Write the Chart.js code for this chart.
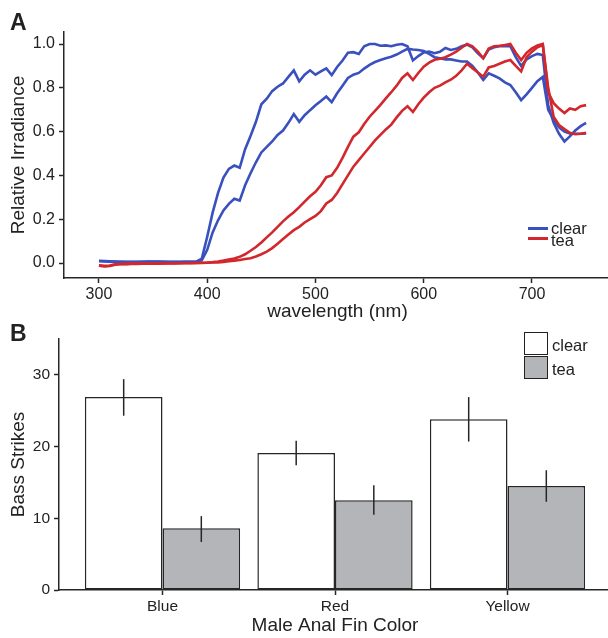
<!DOCTYPE html>
<html>
<head>
<meta charset="utf-8">
<script src="https://cdn.jsdelivr.net/npm/chart.js@4.4.1/dist/chart.umd.min.js"></script>
<style>
  html, body { margin: 0; padding: 0; background: #fff; overflow: hidden; }
  #wrap { position: relative; width: 608px; height: 638px; overflow: hidden;
          font-family: "Liberation Sans", Arial, sans-serif; color: #222; }
  canvas { position: absolute; left: 0; }
  #irr { top: 0; }
  #bass { top: 320px; }
  .tag { position: absolute; font-weight: bold; font-size: 23px; line-height: 1; }
  .lg { position: absolute; font-size: 16.5px; line-height: 1; }
  .seg { position: absolute; width: 20px; height: 3px; }
  .box { position: absolute; width: 22px; height: 21px; border: 1.5px solid #222; }
</style>
</head>
<body>
<div id="wrap">
  <canvas id="irr" width="611" height="321"></canvas>
  <canvas id="bass" width="611" height="318"></canvas>

  <div class="tag" style="left:10px; top:11px;">A</div>
  <div class="tag" style="left:10px; top:322px;">B</div>

  <!-- legend, panel A -->
  <div class="seg" style="left:528px; top:226.5px; background:#3a50be;"></div>
  <div class="lg" style="left:551px; top:220px;">clear</div>
  <div class="seg" style="left:528px; top:236.5px; background:#d2282d;"></div>
  <div class="lg" style="left:551px; top:231.5px;">tea</div>

  <!-- legend, panel B -->
  <div class="box" style="left:524px; top:332px; background:#fff;"></div>
  <div class="lg" style="left:552px; top:336.5px;">clear</div>
  <div class="box" style="left:524px; top:356px; background:#b3b5b8;"></div>
  <div class="lg" style="left:552px; top:360.5px;">tea</div>
</div>

<script>
// ---- panel A: relative irradiance spectra ----
const wavelengths = [
  300, 305, 310, 315, 320, 325, 330, 335, 340, 345, 350, 355, 360, 365, 370, 375, 380, 385, 390, 395,
  400, 405, 410, 415, 420, 425, 430, 435, 440, 445, 450, 455, 460, 465, 470, 475, 480, 485, 490, 495,
  500, 505, 510, 515, 520, 525, 530, 535, 540, 545, 550, 555, 560, 565, 570, 575, 580, 585, 590, 595,
  600, 605, 610, 615, 620, 625, 630, 635, 640, 645, 650, 655, 660, 665, 670, 675, 680, 685, 690, 695,
  700, 705, 710, 715, 720, 725, 730, 735, 740, 745, 750
];
const clearA = [
  0.008, 0.007, 0.006, 0.005, 0.005, 0.004, 0.004, 0.004, 0.005, 0.005, 0.005, 0.006, 0.005, 0.004, 0.004, 0.004, 0.005, 0.005, 0.006, 0.02,
  0.12, 0.23, 0.32, 0.39, 0.43, 0.445, 0.435, 0.52, 0.58, 0.645, 0.725, 0.75, 0.785, 0.805, 0.82, 0.85, 0.88, 0.83, 0.86, 0.88,
  0.86, 0.875, 0.889, 0.858, 0.895, 0.925, 0.96, 0.963, 0.955, 0.99, 1.0, 1.0, 0.992, 0.994, 0.99, 0.997, 1.0, 0.99, 0.925, 0.945,
  0.962, 0.966, 0.958, 0.965, 0.982, 0.973, 0.978, 0.99, 0.997, 0.985, 0.958, 0.935, 0.975, 0.985, 0.99, 0.99, 0.99, 0.94, 0.9, 0.93,
  0.945, 0.955, 0.95, 0.72, 0.64, 0.59, 0.555, 0.578, 0.605, 0.625, 0.64
];
const clearB = [
  0.01, 0.009, 0.008, 0.007, 0.006, 0.006, 0.006, 0.006, 0.006, 0.007, 0.007, 0.007, 0.006, 0.006, 0.006, 0.006, 0.006, 0.006, 0.007, 0.012,
  0.06, 0.14, 0.195, 0.24, 0.27, 0.293, 0.285, 0.355, 0.41, 0.46, 0.505, 0.53, 0.555, 0.585, 0.605, 0.64, 0.68, 0.645, 0.675, 0.698,
  0.72, 0.74, 0.76, 0.735, 0.775, 0.81, 0.845, 0.86, 0.868, 0.888, 0.905, 0.918, 0.927, 0.935, 0.942, 0.952, 0.965, 0.978, 0.975, 0.973,
  0.968, 0.955, 0.94, 0.935, 0.93, 0.93, 0.925, 0.92, 0.92, 0.9, 0.87, 0.836, 0.866, 0.855, 0.843, 0.825, 0.813, 0.78, 0.744, 0.77,
  0.8, 0.83, 0.85, 0.7, 0.655, 0.62, 0.6, 0.592, 0.59, 0.59, 0.592
];
const teaA = [
  -0.01, -0.013, -0.012, -0.006, -0.004, -0.004, -0.003, -0.003, -0.002, -0.002, -0.002, -0.002, -0.002, -0.001, -0.001, -0.001, 0.0, 0.0, 0.0, 0.001,
  0.002, 0.004, 0.007, 0.011, 0.016, 0.021, 0.028, 0.04, 0.056, 0.073, 0.094, 0.117, 0.14, 0.165, 0.19, 0.212, 0.232, 0.255, 0.28, 0.305,
  0.325, 0.355, 0.392, 0.4, 0.435, 0.48, 0.53, 0.577, 0.597, 0.635, 0.668, 0.695, 0.722, 0.752, 0.78, 0.81, 0.845, 0.866, 0.836, 0.868,
  0.897, 0.915, 0.928, 0.933, 0.94, 0.952, 0.965, 0.983, 1.0, 0.99, 0.965, 0.935, 0.98, 0.99, 0.992, 0.995, 1.0, 0.96, 0.927, 0.96,
  0.98, 0.993, 1.0, 0.78, 0.73, 0.705, 0.685, 0.706, 0.7, 0.716, 0.721
];
const teaB = [
  -0.012, -0.016, -0.014, -0.008, -0.006, -0.005, -0.004, -0.004, -0.003, -0.003, -0.003, -0.003, -0.002, -0.002, -0.002, -0.001, -0.001, -0.001, 0.0, 0.0,
  0.001, 0.002, 0.003, 0.005, 0.008, 0.011, 0.014, 0.018, 0.022, 0.03, 0.04, 0.052, 0.068, 0.088, 0.11, 0.13, 0.15, 0.165, 0.185, 0.2,
  0.215, 0.237, 0.272, 0.288, 0.32, 0.36, 0.4, 0.44, 0.47, 0.5, 0.53, 0.56, 0.585, 0.61, 0.632, 0.665, 0.695, 0.716, 0.69, 0.725,
  0.755, 0.78, 0.8, 0.81, 0.825, 0.837, 0.855, 0.88, 0.91, 0.89, 0.87, 0.851, 0.893, 0.9, 0.91, 0.92, 0.927, 0.9, 0.875, 0.94,
  0.965, 0.985, 0.995, 0.8, 0.668, 0.63, 0.612, 0.595, 0.588, 0.59, 0.595
];
const xTicksA = [300, 400, 500, 600, 700];
const yTicksA = [0, 0.2, 0.4, 0.6, 0.8, 1.0];

// ---- panel B: bass strikes ----
const finColors = ['Blue', 'Red', 'Yellow'];
const clearStrikes = [26.9, 19.1, 23.8];
const clearLow = [24.3, 17.4, 20.7];
const clearHigh = [29.4, 20.8, 26.9];
const teaStrikes = [8.6, 12.5, 14.5];
const teaLow = [6.7, 10.5, 12.3];
const teaHigh = [10.3, 14.6, 16.7];
const yTicksB = [0, 10, 20, 30];

const ink = '#262626';
const blue = '#3a50be';
const red = '#d2282d';
const gray = '#b3b5b8';
const family = '"Liberation Sans", Arial, sans-serif';

function axis(tickSize, tickPad, title, titlePad) {
  return {
    border: { display: true, color: ink, width: 1.5 },
    grid: { display: true, offset: false, drawOnChartArea: false, drawTicks: true, tickLength: 5, tickColor: ink, tickWidth: 1.5 },
    ticks: { color: '#222', padding: tickPad, font: { family: family, size: tickSize } },
    title: { display: true, text: title, color: '#222', padding: titlePad,
             font: { family: family, size: 19, lineHeight: 1 } }
  };
}

function series(vals, color) {
  return {
    data: wavelengths.map((w, i) => ({ x: w, y: vals[i] })),
    borderColor: color,
    borderWidth: 2.6,
    pointRadius: 0,
    tension: 0,
    fill: false
  };
}

const irrX = axis(16, 2, 'wavelength (nm)', { top: 0, bottom: 0 });
irrX.type = 'linear';
irrX.min = 267.7;
irrX.max = 773;
irrX.afterBuildTicks = (s) => { s.ticks = xTicksA.map(v => ({ value: v })); };
irrX.afterFit = (s) => { s.height = 43; };

const irrY = axis(16, 4, 'Relative Irradiance', { top: 9, bottom: 0 });
irrY.min = -0.0685;
irrY.max = 1.055;
irrY.ticks.callback = (v) => v.toFixed(1);
irrY.afterBuildTicks = (s) => { s.ticks = yTicksA.map(v => ({ value: v })); };
irrY.afterFit = (s) => { s.width = 64; };

// red first so it is painted on top
new Chart(document.getElementById('irr'), {
  type: 'line',
  data: { datasets: [series(teaA, red), series(teaB, red), series(clearA, blue), series(clearB, blue)] },
  options: {
    responsive: false,
    animation: false,
    devicePixelRatio: 1,
    layout: { padding: { top: 32, left: 0, right: 0, bottom: 0 } },
    plugins: { legend: { display: false }, tooltip: { enabled: false } },
    scales: { x: irrX, y: irrY }
  }
});

const errorBars = {
  id: 'errorBars',
  afterDatasetsDraw(chart) {
    const ctx = chart.ctx;
    const y = chart.scales.y;
    ctx.save();
    ctx.strokeStyle = ink;
    ctx.lineWidth = 1.5;
    [[clearLow, clearHigh], [teaLow, teaHigh]].forEach(([lo, hi], d) => {
      chart.getDatasetMeta(d).data.forEach((bar, i) => {
        ctx.beginPath();
        ctx.moveTo(bar.x, y.getPixelForValue(lo[i]));
        ctx.lineTo(bar.x, y.getPixelForValue(hi[i]));
        ctx.stroke();
      });
    });
    ctx.restore();
  }
};

const bassX = axis(15.5, 2, 'Male Anal Fin Color', { top: 0, bottom: 3 });
bassX.type = 'linear';
bassX.min = 0.4;
bassX.max = 3.6;
bassX.offset = false;
bassX.ticks.callback = (v) => finColors[Math.round(v) - 1] || '';
bassX.afterBuildTicks = (s) => { s.ticks = finColors.map((c, i) => ({ value: i + 1 })); };
bassX.afterFit = (s) => { s.height = 48; };

const bassY = axis(15.5, 4, 'Bass Strikes', { top: 9, bottom: 0 });
bassY.min = 0;
bassY.max = 35;
bassY.afterBuildTicks = (s) => { s.ticks = yTicksB.map(v => ({ value: v })); };
bassY.afterFit = (s) => { s.width = 59; };

new Chart(document.getElementById('bass'), {
  type: 'bar',
  data: {
    datasets: [
      { label: 'clear', data: finColors.map((c, i) => ({ x: i + 1, y: clearStrikes[i] })),
        backgroundColor: '#ffffff', borderColor: ink, borderWidth: 1.5, borderSkipped: false,
        categoryPercentage: 0.9, barPercentage: 1.0 },
      { label: 'tea', data: finColors.map((c, i) => ({ x: i + 1, y: teaStrikes[i] })),
        backgroundColor: gray, borderColor: ink, borderWidth: 1.5, borderSkipped: false,
        categoryPercentage: 0.9, barPercentage: 1.0 }
    ]
  },
  options: {
    responsive: false,
    animation: false,
    devicePixelRatio: 1,
    layout: { padding: { top: 19, left: 0, right: 0, bottom: 0 } },
    plugins: { legend: { display: false }, tooltip: { enabled: false } },
    scales: { x: bassX, y: bassY }
  },
  plugins: [errorBars]
});
</script>
</body>
</html>
